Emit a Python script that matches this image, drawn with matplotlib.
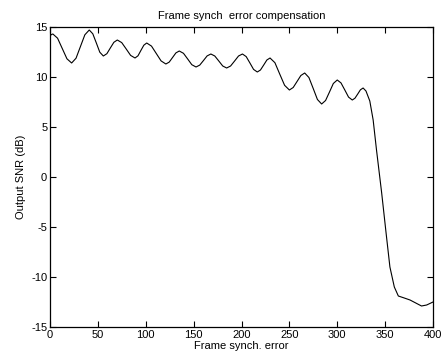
import numpy as np
import matplotlib
matplotlib.use('Agg')
import matplotlib.pyplot as plt

plt.rcParams['font.family'] = ['Liberation Sans', 'DejaVu Sans']
plt.rcParams['axes.unicode_minus'] = False

# frame synch error (samples) and output SNR (dB)
err = [0, 1.5, 3, 7.9, 12.8, 17.7, 22.6, 27.2, 31.8, 36.4, 41,
       44.7, 48.4, 52.0, 55.7, 59.4, 63.0, 66.7, 70.3,
       74.9, 79.6, 84.2, 88.8, 91.9, 94.9, 98.0, 101,
       106, 111, 116, 121, 124.5, 128, 131.5, 135,
       139.4, 143.8, 148.1, 152.5, 156.4, 160.3, 164.1, 168,
       172.1, 176.3, 180.4, 184.5, 188.6, 192.8, 196.9, 201,
       204.9, 208.8, 212.6, 216.5, 219.8, 223.2, 226.5, 229.8,
       234.9, 239.9, 245, 250, 254, 258, 262, 266,
       270.4, 274.9, 279.3, 283.7, 287.8, 291.9, 295.9, 300,
       303.9, 307.9, 311.8, 315.7, 318.5, 321.4, 324.2, 327,
       330, 334, 337.5, 341, 346.4, 351, 355, 359.6, 363.8,
       370, 376, 382, 388, 393.4, 400]
snr = [14.1, 14.25, 14.3, 13.88, 12.85, 11.82, 11.4, 11.88, 13.05, 14.22, 14.7,
       14.32, 13.4, 12.48, 12.1, 12.33, 12.9, 13.47, 13.7,
       13.44, 12.8, 12.16, 11.9, 12.12, 12.65, 13.18, 13.4,
       13.09, 12.35, 11.61, 11.3, 11.49, 11.95, 12.41, 12.6,
       12.37, 11.8, 11.23, 11.0, 11.19, 11.65, 12.11, 12.3,
       12.1, 11.6, 11.1, 10.9, 11.1, 11.6, 12.1, 12.3,
       12.04, 11.4, 10.76, 10.5, 10.7, 11.2, 11.7, 11.9,
       11.43, 10.3, 9.17, 8.7, 8.95, 9.55, 10.15, 10.4,
       9.95, 8.85, 7.75, 7.3, 7.65, 8.5, 9.35, 9.7,
       9.41, 8.7, 7.99, 7.7, 7.88, 8.3, 8.72, 8.9,
       8.6, 7.6, 5.7, 2.7, -1.6, -5.6, -9.0, -11.0, -11.9,
       -12.1, -12.3, -12.6, -12.9, -12.8, -12.5]

xticks = [0, 50, 100, 150, 200, 250, 300, 350, 400]
yticks = [-15, -10, -5, 0, 5, 10, 15]

fig = plt.figure(figsize=(4.45, 3.58), dpi=100)
ax = fig.add_axes([50/445, 31/358, 383/445, 300/358])
ax.plot(err, snr, color='black', linewidth=0.8)

ax.set_xlim(0, 400)
ax.set_ylim(-15, 15)
ax.set_xticks(xticks)
ax.set_yticks(yticks)
ax.tick_params(direction='in', length=4, width=0.8, labelsize=8,
               top=True, right=True, pad=2)
for s in ax.spines.values():
    s.set_linewidth(0.9)

ax.set_title("Frame synch  error compensation", fontsize=8, pad=6)
ax.set_xlabel("Frame synch. error", fontsize=8, labelpad=1)
ax.set_ylabel("Output SNR (dB)", fontsize=8, labelpad=4)

fig.savefig("out.png", dpi=100)
